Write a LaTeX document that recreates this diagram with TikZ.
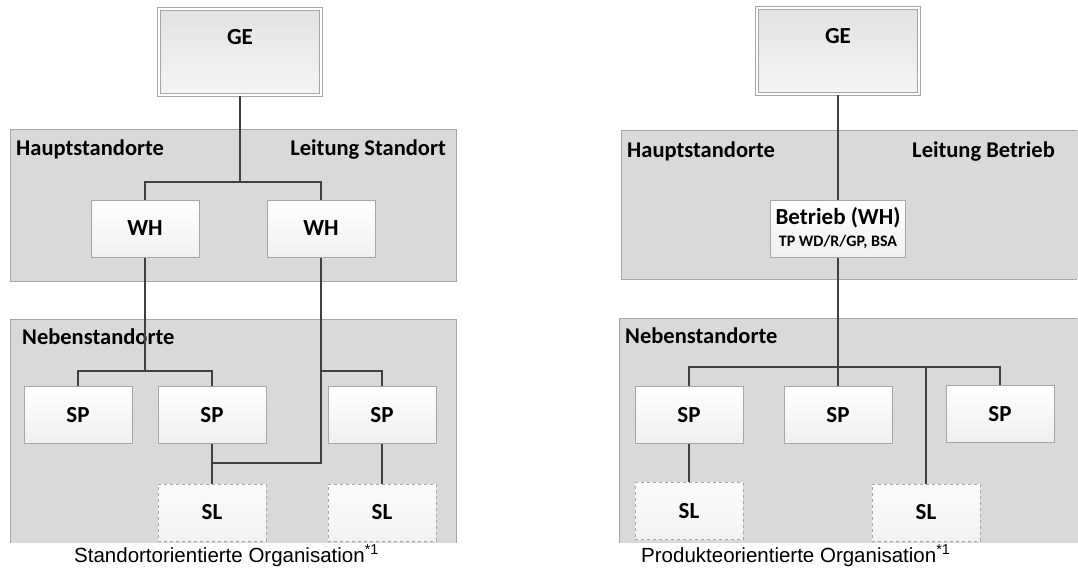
\documentclass[tikz,border=0pt]{standalone}
\usepackage{fontspec}
\setmainfont{Carlito}
\newfontfamily\capfont{Liberation Sans}
\definecolor{panelgray}{HTML}{D9D9D9}
\definecolor{rimgray}{HTML}{A6A6A6}
\definecolor{wiregray}{HTML}{404040}

\begin{document}
\begin{tikzpicture}[x=1pt,y=-1pt,
    panel/.style={fill=panelgray},
    panel rim/.style={draw=rimgray,line width=1pt},
    panel label/.style={font=\fontsize{22.5}{26}\selectfont\bfseries,inner sep=0pt},
    wire/.style={draw=wiregray,line width=2pt},
    unit node/.style={rectangle,draw=rimgray,line width=1pt,top color=white,bottom color=gray!12,
      minimum width=108pt,minimum height=57pt,inner sep=0pt,font=\fontsize{23}{26}\selectfont\bfseries},
    sub node/.style={unit node,dashed,top color=gray!3,bottom color=gray!10},
    head node/.style={unit node,minimum width=162pt,minimum height=86pt,top color=gray!22,bottom color=gray!8,
      double=white,double distance=2pt,text height=15pt,text depth=31pt},
    caption/.style={font=\capfont\fontsize{20.5}{24}\selectfont,inner sep=0pt,anchor=base west}]
  \useasboundingbox (0,0) rectangle (1078,568);

  % panels left
  \fill[panel] (10,129) rectangle (456,281);
  \draw[panel rim] (10,129) rectangle (456,281);
  \fill[panel] (10,319) rectangle (456,543);
  \draw[panel rim] (10,543) -- (10,319) -- (456,319) -- (456,543);
  \node[panel label,anchor=base west] (hsL) at (16,155) {Hauptstandorte};
  \node[panel label,anchor=base east] (lsL) at (446,155) {Leitung Standort};
  \node[panel label,anchor=base west] (nsL) at (22,344) {Nebenstandorte};

  % panels right
  \fill[panel] (621,130) rectangle (1078,279);
  \draw[panel rim] (1077,130) -- (621,130) -- (621,279) -- (1077,279);
  \fill[panel] (619,318) rectangle (1078,543);
  \draw[panel rim] (619,543) -- (619,318) -- (1077,318);
  \node[panel label,anchor=base west] (hsR) at (627,157) {Hauptstandorte};
  \node[panel label,anchor=base east] (lbR) at (1055,157) {Leitung Betrieb};
  \node[panel label,anchor=base west] (nsR) at (625,343) {Nebenstandorte};

  % junctions
  \coordinate (hubL) at (240,182);
  \coordinate (forkA) at (145,371);
  \coordinate (forkB) at (321,371);
  \coordinate (joinB) at (321,463);
  \coordinate (hubR) at (838,367);

  % boxes left
  \node[head node] (geL) at (240,52) {GE};
  \node[unit node] (whA) at (145,228.5) {WH};
  \node[unit node] (whB) at (321,228.5) {WH};
  \node[unit node] (spA) at (78,415) {SP};
  \node[unit node] (spB) at (212,415) {SP};
  \node[unit node] (spC) at (382,415) {SP};
  \node[sub node] (slA) at (212,512.5) {SL};
  \node[sub node] (slB) at (382,512.5) {SL};

  % boxes right
  \node[head node] (geR) at (838,51) {GE};
  \node[unit node,minimum width=135pt,align=center] (betr) at (838,228.5)
    {Betrieb (WH)\\[-4pt]{\fontsize{16}{18}\selectfont TP WD/R/GP, BSA}};
  \node[unit node] (spD) at (689,415) {SP};
  \node[unit node] (spE) at (838,415) {SP};
  \node[unit node] (spF) at (1000,414) {SP};
  \node[sub node] (slC) at (689,511) {SL};
  \node[sub node] (slD) at (926,512.5) {SL};

  % connectors left
  \draw[wire] (geL.south) -- (hubL);
  \draw[wire] (whA.north) |- (hubL) -| (whB.north);
  \draw[wire] (whA.south) -- (forkA);
  \draw[wire] (spA.north) |- (forkA) -| (spB.north);
  \draw[wire] (whB.south) -- (joinB) -- (joinB -| spB.south);
  \draw[wire] (forkB) -| (spC.north);
  \draw[wire] (spB.south) -- (slA.north);
  \draw[wire] (spC.south) -- (slB.north);

  % connectors right
  \draw[wire] (geR.south) -- (betr.north);
  \draw[wire] (betr.south) -- (hubR);
  \draw[wire] (spD.north) |- (hubR) -| (spF.north);
  \draw[wire] (hubR) -- (spE.north);
  \draw[wire] (slD.north) -- (slD.north |- hubR);
  \draw[wire] (spD.south) -- (slC.north);

  % captions
  \node[caption] (capL) at (74,562) {Standortorientierte Organisation\textsuperscript{*1}};
  \node[caption] (capR) at (641,562) {Produkteorientierte Organisation\textsuperscript{*1}};
\end{tikzpicture}
\end{document}
